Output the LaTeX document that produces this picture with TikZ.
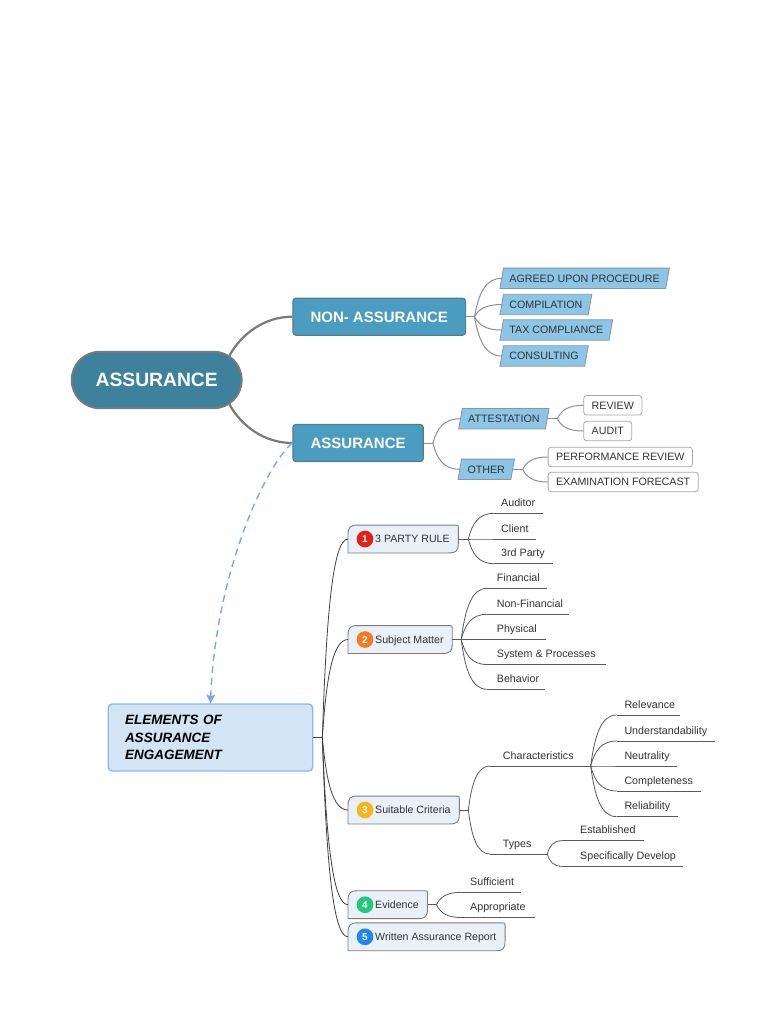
\documentclass[tikz,border=0pt]{standalone}
\usepackage{fontspec}
\setmainfont{Liberation Sans}
\usetikzlibrary{calc,arrows.meta}
\pgfdeclarelayer{bg}
\pgfsetlayers{bg,main}
\definecolor{mainfill}{HTML}{3E819D}
\definecolor{maindraw}{HTML}{7A7A7A}
\definecolor{boxfill}{HTML}{4B9CC1}
\definecolor{boxdraw}{HTML}{557D90}
\definecolor{pfill}{HTML}{8CC5E5}
\definecolor{pdraw}{HTML}{8497A3}
\definecolor{rdraw}{HTML}{A6A6A6}
\definecolor{txtdark}{HTML}{333333}
\definecolor{elfill}{HTML}{D3E4F4}
\definecolor{eldraw}{HTML}{8BB6EC}
\definecolor{efill}{HTML}{E9F0F8}
\definecolor{edraw}{HTML}{7D7D7D}
\definecolor{tconnc}{HTML}{8F8F8F}
\definecolor{mconnc}{HTML}{7A7A7A}
\definecolor{econnc}{HTML}{3F3F3F}
\definecolor{lconnc}{HTML}{5A5A5A}
\definecolor{arrowc}{HTML}{7CA8EE}
\definecolor{icA}{HTML}{E52117}
\definecolor{icB}{HTML}{F47B20}
\definecolor{icC}{HTML}{F8B41C}
\definecolor{icD}{HTML}{22C97A}
\definecolor{icE}{HTML}{1E88EE}
\tikzset{
  every node/.style={font=\fontsize{10.7}{13}\selectfont},
  mainnode/.style={rectangle, rounded corners=28pt, minimum width=170pt, minimum height=56.6pt,
    fill=mainfill, draw=maindraw, line width=1.8pt, text=white,
    font=\bfseries\fontsize{19.3}{22}\selectfont, text height=13.8pt, text depth=0pt, inner sep=0},
  topbox/.style={rectangle, rounded corners=3pt, minimum height=37pt, fill=boxfill, draw=boxdraw,
    line width=1.2pt, text=white, font=\bfseries\fontsize{15}{18}\selectfont,
    text height=10.7pt, text depth=0pt, inner sep=0, anchor=west},
  pnode/.style={rectangle, minimum height=20pt, inner xsep=7.5pt, inner ysep=0, text=txtdark,
    anchor=west, text height=7.7pt, text depth=0pt},
  pstyle/.style={fill=pfill, draw=pdraw, line width=0.8pt},
  rnode/.style={rectangle, rounded corners=3pt, minimum height=19.5pt, inner xsep=8pt, inner ysep=0,
    fill=white, draw=rdraw, line width=0.8pt, text=txtdark, anchor=west, text height=7.7pt, text depth=0pt},
  elnode/.style={rectangle, rounded corners=4pt, minimum width=204.4pt, minimum height=67pt,
    fill=elfill, draw=eldraw, line width=1.3pt, inner xsep=16.7pt, text width=171pt, align=left,
    font=\bfseries\itshape\fontsize{13.5}{17.3}\selectfont, text=black},
  enode/.style={rectangle, minimum height=27.5pt, inner sep=0, anchor=west, text=txtdark,
    font=\fontsize{10.6}{13}\selectfont, text height=7.6pt, text depth=0pt},
  eshapestyle/.style={fill=efill, draw=edraw, line width=0.9pt},
  icon/.style={circle, minimum size=16.7pt, inner sep=0, text=white,
    font=\bfseries\fontsize{10}{12}\selectfont, text height=7.2pt, text depth=0pt},
  leaftext/.style={inner sep=0, anchor=base west, text=txtdark},
  mconn/.style={draw=mconnc, line width=2.2pt},
  tconn/.style={draw=tconnc, line width=1pt},
  econn/.style={draw=econnc, line width=0.8pt},
  lconn/.style={draw=lconnc, line width=0.8pt},
  uline/.style={draw=lconnc, line width=0.8pt},
  dasharrow/.style={draw=arrowc, line width=1.4pt, dash pattern=on 7pt off 5pt,
    -{Stealth[length=9pt,width=9pt,inset=2pt]}},
}
\newcommand\curv[3]{\draw[#1] let \p1=(#2), \p2=(#3) in (\p1) .. controls ({\x1+0.15*(\x2-\x1)},{\y1+0.6*(\y2-\y1)}) and ({\x1+0.4*(\x2-\x1)},{\y2}) .. (\p2);}
\newcommand\eshape[1]{\begin{pgfonlayer}{bg}
  \path[eshapestyle] (#1.south west) -- ($(#1.north west)+(0,10)$) .. controls ($(#1.north west)+(0,2)$) and ($(#1.north west)+(2,0)$) .. ($(#1.north west)+(10,0)$)
   -- ($(#1.north east)+(-3,0)$) .. controls (#1.north east) .. ($(#1.north east)+(0,3)$)
   -- ($(#1.south east)+(0,-10)$) .. controls ($(#1.south east)+(0,-2)$) and ($(#1.south east)+(-2,0)$) .. ($(#1.south east)+(-10,0)$) -- cycle;
  \end{pgfonlayer}}
\newcommand\pshape[1]{\begin{pgfonlayer}{bg}
  \path[pstyle] ($(#1.south west)+(-1.8,0)$) -- ($(#1.north west)+(1.8,0)$) -- ($(#1.north east)+(1.8,0)$) -- ($(#1.south east)+(-1.8,0)$) -- cycle;
  \end{pgfonlayer}}
\newcommand\leaf[6]{%
  \coordinate (#1) at (#2,#4);
  \coordinate (#1-e) at (#3,#4);
  \node[leaftext] (#1-t) at (#5,{#4-6.8}) {#6};
  \draw[uline] (#1) -- (#1-e);}
\begin{document}
\begin{tikzpicture}[x=1pt,y=-1pt]
\useasboundingbox (0,0) rectangle (768,1024);
\begin{pgfonlayer}{bg}
\fill[white] (0,0) rectangle (768,1024);
\end{pgfonlayer}

% top part
\node[mainnode] (main) at (156.7,380) {ASSURANCE};
\node[topbox, minimum width=172.7pt] (nonA) at (292.3,316.7) {NON- ASSURANCE};
\node[topbox, minimum width=130.4pt] (a2) at (292.3,443) {ASSURANCE};

\draw[mconn] ($(main.east)+(-13.4,-24)$) .. controls +(12,-22) and +(-28,0) .. (nonA.west);
\draw[mconn] ($(main.east)+(-13.4,24)$) .. controls +(12,22) and +(-28,0) .. (a2.west);

\node[pnode] (agreed) at (501.7,278.3) {AGREED UPON PROCEDURE};
\node[pnode] (compil) at (501.7,304.5) {COMPILATION};
\node[pnode] (tax) at (501.7,330) {TAX COMPLIANCE};
\node[pnode] (consult) at (501.7,356) {CONSULTING};
\node[pnode] (att) at (460.5,418.7) {ATTESTATION};
\node[pnode] (other) at (459.8,469.3) {OTHER};
\foreach \nm in {agreed,compil,tax,consult,att,other} {\pshape{\nm}}

\node[rnode] (review) at (583.3,405.3) {REVIEW};
\node[rnode] (audit) at (583.3,431) {AUDIT};
\node[rnode] (perf) at (547.7,457) {PERFORMANCE REVIEW};
\node[rnode] (exam) at (547.7,482) {EXAMINATION FORECAST};

\coordinate (nonAs) at ($(nonA.east)+(8.3,0)$);
\draw[tconn] (nonA.east) -- (nonAs);
\foreach \nm in {agreed,compil,tax,consult} {\curv{tconn}{nonAs}{\nm.west}}
\coordinate (a2s) at ($(a2.east)+(9,0)$);
\draw[tconn] (a2.east) -- (a2s);
\foreach \nm in {att,other} {\curv{tconn}{a2s}{\nm.west}}
\coordinate (atts) at ($(att.east)+(10,0)$);
\draw[tconn] (att.east) -- (atts);
\foreach \nm in {review,audit} {\curv{tconn}{atts}{\nm.west}}
\coordinate (others) at ($(other.east)+(10,0)$);
\draw[tconn] (other.east) -- (others);
\foreach \nm in {perf,exam} {\curv{tconn}{others}{\nm.west}}

% elements
\node[elnode] (el) at (210.5,737.5) {ELEMENTS OF\\ASSURANCE\\ENGAGEMENT};
\draw[dasharrow] (a2.west) .. controls (262,470) and (215,580) .. (el.north);

\node[enode] (e1) at (348,539) {\hspace*{27pt}3 PARTY RULE\hspace*{8.5pt}};
\node[enode] (e2) at (348,639.5) {\hspace*{27pt}Subject Matter\hspace*{8.5pt}};
\node[enode] (e3) at (348,810) {\hspace*{27pt}Suitable Criteria\hspace*{8.5pt}};
\node[enode] (e4) at (348,904.7) {\hspace*{27pt}Evidence\hspace*{8.5pt}};
\node[enode] (e5) at (348,936.8) {\hspace*{27pt}Written Assurance Report\hspace*{8.5pt}};
\foreach \nm in {e1,e2,e3,e4,e5} {\eshape{\nm}}
\node[icon, fill=icA] (i1) at ($(e1.west)+(17,0)$) {1};
\node[icon, fill=icB] (i2) at ($(e2.west)+(17,0)$) {2};
\node[icon, fill=icC] (i3) at ($(e3.west)+(17,0)$) {3};
\node[icon, fill=icD] (i4) at ($(e4.west)+(17,0)$) {4};
\node[icon, fill=icE] (i5) at ($(e5.west)+(17,0)$) {5};

\coordinate (els) at ($(el.east)+(9,0)$);
\draw[econn] (el.east) -- (els);
\foreach \nm in {e1,e2,e3,e4,e5} {\curv{econn}{els}{\nm.west}}

% 3 party rule
\coordinate (e1s) at ($(e1.east)+(10,0)$);
\draw[lconn] (e1.east) -- (e1s);
\leaf{auditor}{494}{543}{513.3}{501}{Auditor}
\leaf{client}{494}{536}{539}{501}{Client}
\leaf{third}{494}{552.7}{563.7}{501}{3rd Party}
\foreach \nm in {auditor,client,third} {\curv{lconn}{e1s}{\nm}}

% subject matter
\coordinate (e2s) at ($(e2.east)+(9,0)$);
\draw[lconn] (e2.east) -- (e2s);
\leaf{fin}{487}{546.7}{588.3}{496.7}{Financial}
\leaf{nonfin}{487}{569.3}{614.3}{496.7}{Non-Financial}
\leaf{phys}{487}{546}{639.5}{496.7}{Physical}
\leaf{sys}{487}{606}{664.5}{496.7}{System \& Processes}
\leaf{beh}{487}{545}{689.3}{496.7}{Behavior}
\foreach \nm in {fin,nonfin,phys,sys,beh} {\curv{lconn}{e2s}{\nm}}

% suitable criteria
\coordinate (e3s) at ($(e3.east)+(9,0)$);
\draw[lconn] (e3.east) -- (e3s);
\leaf{char}{490}{590.7}{766}{502.7}{Characteristics}
\leaf{types}{490}{547.3}{854}{502.7}{Types}
\foreach \nm in {char,types} {\curv{lconn}{e3s}{\nm}}
\leaf{rel}{616.7}{680}{715}{624.3}{Relevance}
\leaf{und}{616.7}{715}{741}{624.3}{Understandability}
\leaf{neu}{616.7}{677.3}{766}{624.3}{Neutrality}
\leaf{comp}{616.7}{700.7}{791}{624.3}{Completeness}
\leaf{relia}{616.7}{678.3}{816.7}{624.3}{Reliability}
\foreach \nm in {rel,und,neu,comp,relia} {\curv{lconn}{char-e}{\nm}}
\leaf{est}{562}{644}{840.7}{580}{Established}
\leaf{spec}{562}{683.3}{866.3}{580}{Specifically Develop}
\foreach \nm in {est,spec} {\curv{lconn}{types-e}{\nm}}

% evidence
\coordinate (e4s) at ($(e4.east)+(9,0)$);
\draw[lconn] (e4.east) -- (e4s);
\leaf{suff}{461}{520.5}{892.3}{470}{Sufficient}
\leaf{appr}{461}{535}{917.5}{470}{Appropriate}
\foreach \nm in {suff,appr} {\curv{lconn}{e4s}{\nm}}
\end{tikzpicture}
\end{document}
